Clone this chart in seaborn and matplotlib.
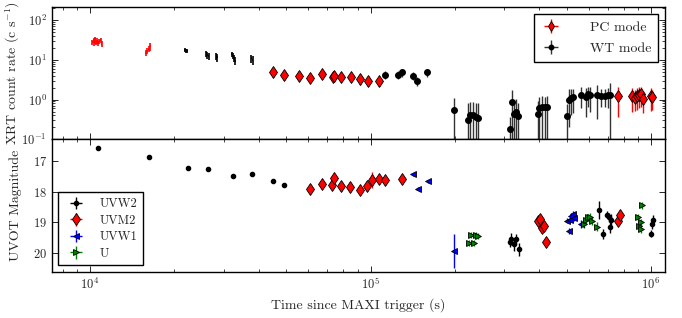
import numpy as np
import matplotlib
matplotlib.use('Agg')
import matplotlib.pyplot as plt
import seaborn as sns

# ---- XRT data (top panel) ----
# PC mode, early dense bins (drawn as error bars only)
pc_fine_t = [1.02e4, 1.03e4, 1.035e4, 1.045e4, 1.05e4, 1.06e4, 1.07e4, 1.08e4, 1.09e4, 1.10e4,
             1.58e4, 1.60e4, 1.62e4, 1.64e4]
pc_fine_rate = [28, 31, 26, 33, 27, 30, 26, 29, 31, 25, 15, 17, 19, 22]
pc_fine_err = [4, 5, 4, 5, 4, 5, 4, 4, 5, 4, 2.5, 3, 3.5, 5]

# PC mode, binned points
pc_t = [4.49e4, 4.93e4, 5.56e4, 6.1e4, 6.7e4, 7.32e4, 7.4e4, 7.87e4, 8.49e4, 9.17e4, 9.76e4, 1.07e5,
        7.65e5, 8.59e5, 8.77e5, 8.91e5, 9.06e5, 9.2e5, 9.35e5, 1.0e6, 1.01e6]
pc_rate = [4.8, 4.05, 4.0, 3.55, 4.3, 3.76, 3.82, 3.7, 3.76, 3.2, 3.0, 2.87,
           1.21, 1.2, 1.12, 1.25, 1.32, 1.36, 1.06, 1.22, 1.15]
pc_err = [1.2, 0.9, 0.8, 0.7, 0.9, 1.0, 1.0, 0.7, 0.7, 0.9, 0.8, 0.7,
          0.85, 0.7, 0.6, 0.7, 0.7, 0.7, 0.6, 0.7, 0.6]

# WT mode, early dense bins
wt_fine_t = [2.18e4, 2.2e4, 2.22e4, 2.6e4, 2.62e4, 2.65e4, 2.82e4, 2.84e4,
             3.2e4, 3.23e4, 3.26e4, 3.3e4, 3.76e4, 3.8e4]
wt_fine_rate = [18, 17, 16.5, 14.5, 13, 12.5, 12.5, 11.5, 14, 12.5, 11, 9.5, 11, 10]
wt_fine_err = [2, 2, 2, 2.5, 2.5, 2.5, 2.5, 2.5, 2, 2, 2, 2, 2.5, 2.5]

# WT mode, binned points
wt_t = [1.13e5, 1.25e5, 1.30e5, 1.42e5, 1.47e5, 1.59e5,
        1.99e5, 2.23e5, 2.27e5, 2.32e5, 2.37e5, 2.41e5,
        3.14e5, 3.19e5, 3.25e5, 3.30e5, 3.36e5,
        3.94e5, 4.0e5, 4.07e5, 4.18e5, 4.25e5,
        5.01e5, 5.08e5, 5.18e5, 5.28e5,
        5.65e5, 5.85e5, 5.95e5, 6.07e5,
        6.42e5, 6.64e5, 6.83e5, 7.0e5, 7.14e5]
wt_rate = [4.2, 4.2, 4.8, 4.0, 3.0, 4.8,
           0.56, 0.30, 0.42, 0.40, 0.37, 0.35,
           0.18, 0.89, 0.44, 0.48, 0.38,
           0.44, 0.60, 0.66, 0.64, 0.64,
           0.38, 1.0, 1.1, 1.15,
           1.33, 1.17, 1.35, 1.3,
           1.33, 1.25, 1.25, 1.3, 1.33]
wt_err = [0.9, 0.9, 1.0, 0.9, 0.8, 1.1,
          0.55, 0.5, 0.45, 0.45, 0.45, 0.45,
          0.19, 0.9, 0.5, 0.55, 0.45,
          0.5, 0.55, 0.6, 0.55, 0.6,
          0.4, 0.8, 0.7, 0.7,
          0.7, 0.8, 0.7, 0.8,
          1.0, 0.6, 0.6, 0.7, 1.3]

# ---- UVOT data (bottom panel) ----
uvw2_t = [1.065e4, 1.62e4, 2.24e4, 2.64e4, 3.24e4, 3.78e4, 4.49e4, 4.93e4,
          3.13e5, 3.18e5, 3.24e5, 3.31e5, 3.37e5,
          6.53e5, 6.76e5, 6.99e5, 7.09e5, 7.18e5, 7.13e5,
          9.97e5, 1.01e6, 1.02e6]
uvw2_mag = [16.58, 16.88, 17.22, 17.25, 17.48, 17.44, 17.65, 17.78,
            19.64, 19.54, 19.72, 19.54, 19.88,
            18.59, 19.38, 18.75, 18.83, 18.92, 19.15,
            19.37, 19.06, 18.92]
uvw2_err = [0.03, 0.03, 0.03, 0.03, 0.03, 0.03, 0.03, 0.03,
            0.15, 0.2, 0.2, 0.15, 0.2,
            0.3, 0.15, 0.12, 0.15, 0.2, 0.2,
            0.12, 0.15, 0.15]

uvm2_t = [6.07e4, 6.7e4, 7.26e4, 7.4e4, 7.85e4, 8.47e4, 9.14e4, 9.73e4, 1.01e5, 1.07e5, 1.13e5, 1.30e5,
          3.96e5, 4.02e5, 4.07e5, 4.16e5, 4.22e5, 7.65e5, 7.76e5]
uvm2_mag = [17.90, 17.76, 17.78, 17.55, 17.81, 17.84, 17.95, 17.81, 17.62, 17.59, 17.62, 17.58,
            18.96, 18.90, 19.19, 19.11, 19.64, 18.95, 18.75]
uvm2_err = [0.06, 0.06, 0.06, 0.06, 0.06, 0.06, 0.06, 0.06, 0.27, 0.06, 0.06, 0.06,
            0.08, 0.08, 0.08, 0.08, 0.12, 0.08, 0.08]

uvw1_t = [1.42e5, 1.48e5, 1.60e5, 1.99e5,
          5.01e5, 5.11e5, 5.15e5, 5.2e5, 5.29e5, 5.32e5, 5.65e5]
uvw1_mag = [17.43, 17.91, 17.67, 19.92,
            18.95, 19.27, 18.92, 18.79, 18.72, 18.86, 19.05]
uvw1_err = [0.05, 0.05, 0.05, 0.55,
            0.08, 0.1, 0.08, 0.08, 0.1, 0.08, 0.12]

u_t = [2.24e5, 2.28e5, 2.33e5, 2.38e5, 2.42e5,
       5.78e5, 5.86e5, 5.94e5, 6.05e5, 6.15e5, 6.41e5,
       9.02e5, 9.07e5, 9.18e5, 9.18e5, 9.31e5]
u_mag = [19.66, 19.40, 19.66, 19.40, 19.44,
         19.05, 18.92, 18.84, 18.81, 18.95, 19.14,
         18.84, 19.11, 19.0, 19.22, 18.45]
u_err = [0.1, 0.1, 0.1, 0.1, 0.1,
         0.12, 0.12, 0.1, 0.1, 0.12, 0.15,
         0.12, 0.12, 0.12, 0.12, 0.12]

sns.set_style('ticks')
plt.rcParams['font.family'] = 'cmr10'
plt.rcParams['mathtext.fontset'] = 'cm'
plt.rcParams['axes.formatter.use_mathtext'] = True
plt.rcParams['xtick.direction'] = 'in'
plt.rcParams['ytick.direction'] = 'in'
plt.rcParams['xtick.top'] = True
plt.rcParams['ytick.right'] = True
plt.rcParams['axes.edgecolor'] = 'black'
plt.rcParams['axes.linewidth'] = 1.0

fig = plt.figure(figsize=(6.82, 3.18), dpi=100)
ax1 = fig.add_axes([0.0758, 0.562, 0.899, 0.415])
ax2 = fig.add_axes([0.0758, 0.146, 0.899, 0.416], sharex=ax1)

# top panel
ax1.errorbar(pc_fine_t, pc_fine_rate, yerr=pc_fine_err, xerr=np.array(pc_fine_t) * 0.004,
             fmt='none', ecolor='red', elinewidth=1.2)
ax1.errorbar(wt_fine_t, wt_fine_rate, yerr=wt_fine_err, xerr=np.array(wt_fine_t) * 0.004,
             fmt='none', ecolor='black', elinewidth=1.2)
ax1.errorbar(wt_t, wt_rate, yerr=wt_err, xerr=np.array(wt_t) * 0.003, fmt='o', color='black',
             ms=4, ecolor='0.2', elinewidth=1, capsize=0, label='WT mode')
ax1.errorbar(pc_t, pc_rate, yerr=pc_err, xerr=np.array(pc_t) * 0.003, fmt='d', color='red',
             mec='black', mew=0.6, ms=6, ecolor='red', elinewidth=1, capsize=0, label='PC mode')
ax1.set_xscale('log')
ax1.set_yscale('log')
ax1.set_ylim(0.1, 210)
ax1.set_xlim(7.3e3, 1.12e6)
ax1.set_ylabel(r'XRT count rate (c s$^{-1}$)', fontsize=10)
h, l = ax1.get_legend_handles_labels()
leg1 = ax1.legend(h[::-1], l[::-1], loc='upper right', numpoints=1, fontsize=10, frameon=True,
                  fancybox=False, edgecolor='black', framealpha=1, borderpad=0.5,
                  handlelength=1.5, handletextpad=2.0, labelspacing=0.6, borderaxespad=0.5,
                  markerscale=0.8)
leg1.get_frame().set_linewidth(1.0)
plt.setp(ax1.get_xticklabels(), visible=False)

# bottom panel
ax2.errorbar(uvw2_t, uvw2_mag, yerr=uvw2_err, xerr=np.array(uvw2_t) * 0.003, fmt='o', color='black',
             ms=3, ecolor='black', elinewidth=1, capsize=0, label='UVW2')
ax2.errorbar(uvm2_t, uvm2_mag, yerr=uvm2_err, xerr=np.array(uvm2_t) * 0.003, fmt='d', color='red',
             mec='black', mew=0.6, ms=6.5, ecolor='red', elinewidth=1, capsize=0, label='UVM2')
ax2.errorbar(uvw1_t, uvw1_mag, yerr=uvw1_err, xerr=np.array(uvw1_t) * 0.003, fmt='<', color='blue',
             mec='black', mew=0.6, ms=5, ecolor='blue', elinewidth=1, capsize=0, label='UVW1')
ax2.errorbar(u_t, u_mag, yerr=u_err, xerr=np.array(u_t) * 0.003, fmt='>', color='green',
             mec='black', mew=0.6, ms=5, ecolor='green', elinewidth=1, capsize=0, label='U')
ax2.set_ylim(20.6, 16.3)
ax2.set_yticks([17, 18, 19, 20])
ax2.set_ylabel('UVOT Magnitude', fontsize=10)
ax2.set_xlabel('Time since MAXI trigger (s)', fontsize=10)
leg2 = ax2.legend(loc='lower left', numpoints=1, fontsize=9, frameon=True, fancybox=False,
                  edgecolor='black', framealpha=1, borderpad=0.45, handletextpad=0.9,
                  labelspacing=0.35)
leg2.get_frame().set_linewidth(1.0)

for ax in (ax1, ax2):
    ax.tick_params(which='major', length=4.5, width=0.7, labelsize=9)
    ax.tick_params(which='minor', length=2.3, width=0.6)
    ax.yaxis.set_label_coords(-0.048, 0.5)
ax2.yaxis.set_minor_locator(matplotlib.ticker.NullLocator())

fig.savefig('out.png', dpi=100)
